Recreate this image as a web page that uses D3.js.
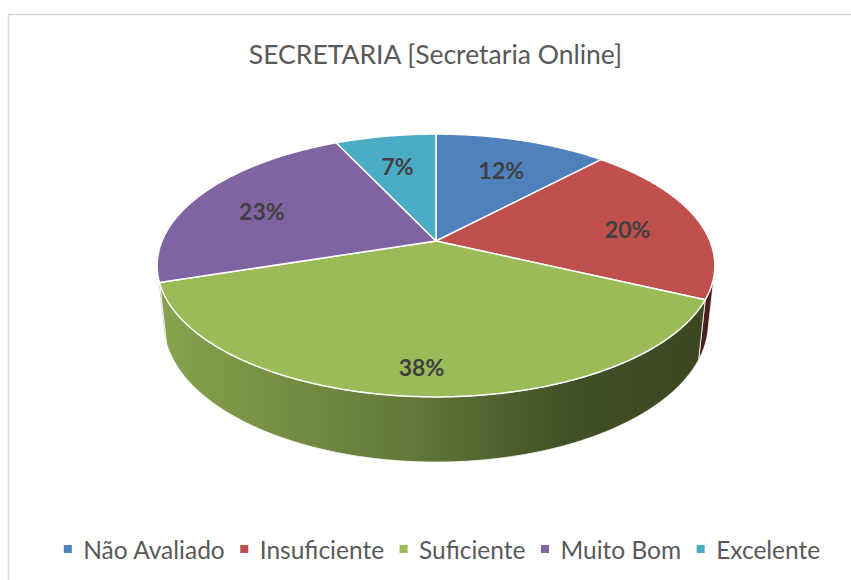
<!DOCTYPE html>
<html>
<head>
<meta charset="utf-8">
<script src="https://cdn.jsdelivr.net/npm/d3@7"></script>
<style>
  html, body { margin: 0; padding: 0; background: #fff; }
  svg { display: block; }
</style>
</head>
<body>
<svg id="chart" width="851" height="580"></svg>
<script>
// Chart data
const categories = ["Não Avaliado", "Insuficiente", "Suficiente", "Muito Bom", "Excelente"];
const values = [12, 20, 38, 23, 7];
const percentLabels = ["12%", "20%", "38%", "23%", "7%"];
const colors = ["#4f81bd", "#c0504d", "#9bbb59", "#8064a2", "#4bacc6"];
const title = "SECRETARIA [Secretaria Online]";

const W = 851, H = 580;
const svg = d3.select("#chart");

// Chart area frame
svg.append("rect")
  .attr("x", 8.5).attr("y", 14.5)
  .attr("width", W + 40).attr("height", H + 40)
  .attr("fill", "#fff")
  .attr("stroke", "#d9d9d9").attr("stroke-width", 1.5);

// Title
svg.append("text")
  .attr("x", 435.5).attr("y", 64)
  .attr("text-anchor", "middle")
  .attr("font-family", "Lato, 'Open Sans', sans-serif")
  .attr("font-size", 26.5)
  .attr("fill", "#595959")
  .text(title);

// Perspective camera for the 3D pie
const cx = 436, cy = 241;          // projected pie centre
const focal = 1303, dist = 4.756;  // focal length and camera distance (radius units)
const sinP = 0.463, cosP = Math.sqrt(1 - sinP * sinP);
const thick = 0.2395;              // pie thickness (radius units)

function project(theta, r, z) {
  const X = r * Math.sin(theta), Y = r * Math.cos(theta);
  const depth = dist + Y * cosP - z * sinP;
  return [cx + focal * X / depth, cy - focal * (Y * sinP + z * cosP) / depth];
}

// The outer wall faces the viewer where cos(theta) < -1/(dist*cosP)
const visHalf = Math.acos(-1 / (dist * cosP));
const visStart = visHalf, visEnd = 2 * Math.PI - visHalf;

function arcPoints(a0, a1, r, z) {
  const n = Math.max(2, Math.ceil(Math.abs(a1 - a0) / (Math.PI / 360)));
  const pts = [];
  for (let i = 0; i <= n; i++) pts.push(project(a0 + (a1 - a0) * i / n, r, z));
  return pts;
}

const line = d3.line();
const arcs = d3.pie().sort(null).value(d => d).startAngle(0).endAngle(2 * Math.PI)(values);

// Wall shading gradients (light from the left)
const xs = [project(Math.PI * 1.5, 1, 0)[0], project(Math.PI * 0.5, 1, 0)[0]];
const defs = svg.append("defs");
const shadeStops = [[0, 0.87], [0.45, 0.64], [0.75, 0.42], [1, 0.38]];
colors.forEach((c, i) => {
  const g = defs.append("linearGradient")
    .attr("id", "wall" + i)
    .attr("gradientUnits", "userSpaceOnUse")
    .attr("x1", xs[0]).attr("x2", xs[1]).attr("y1", 0).attr("y2", 0);
  const base = d3.rgb(c);
  shadeStops.forEach(([o, k]) => {
    g.append("stop").attr("offset", o)
      .attr("stop-color", d3.rgb(base.r * k, base.g * k, base.b * k).formatHex());
  });
});

// Outer walls
const walls = svg.append("g");
arcs.forEach((a, i) => {
  const a0 = Math.max(a.startAngle, visStart), a1 = Math.min(a.endAngle, visEnd);
  if (a1 <= a0) return;
  const pts = arcPoints(a0, a1, 1, 0).concat(arcPoints(a1, a0, 1, -thick));
  walls.append("path")
    .attr("d", line(pts) + "Z")
    .attr("fill", `url(#wall${i})`)
    .attr("stroke", "#fff").attr("stroke-width", 0.8)
    .attr("stroke-linejoin", "round");
});

// Top faces
const tops = svg.append("g");
arcs.forEach((a, i) => {
  const pts = [project(0, 0, 0)].concat(arcPoints(a.startAngle, a.endAngle, 1, 0));
  tops.append("path")
    .attr("d", line(pts) + "Z")
    .attr("fill", colors[i])
    .attr("stroke", "#fff").attr("stroke-width", 1.5)
    .attr("stroke-linejoin", "round");
});

// Percentage labels
const labels = svg.append("g");
arcs.forEach((a, i) => {
  const mid = (a.startAngle + a.endAngle) / 2;
  const [x, y] = project(mid, 0.73, 0);
  const drop = Math.max(0, -Math.cos(mid)) * 14;
  labels.append("text")
    .attr("x", x).attr("y", y + 5 + drop)
    .attr("text-anchor", "middle")
    .attr("dominant-baseline", "central")
    .attr("font-family", "Lato, 'Open Sans', sans-serif")
    .attr("font-weight", "bold")
    .attr("font-size", 23)
    .attr("fill", "#404040")
    .text(percentLabels[i]);
});

// Legend
const legend = svg.append("g");
const items = categories.map((name, i) => {
  const g = legend.append("g");
  g.append("rect").attr("width", 8).attr("height", 8).attr("y", -4).attr("fill", colors[i]);
  const t = g.append("text")
    .attr("x", 19.5).attr("y", 0)
    .attr("dominant-baseline", "central")
    .attr("font-family", "Lato, 'Open Sans', sans-serif")
    .attr("font-size", 24.5)
    .attr("fill", "#595959")
    .text(name);
  return { g, w: 19.5 + t.node().getComputedTextLength() };
});
const gap = 15.5;
const total = d3.sum(items, d => d.w) + gap * (items.length - 1);
let lx = 442 - total / 2;
items.forEach(d => {
  d.g.attr("transform", `translate(${lx},549)`);
  lx += d.w + gap;
});
</script>
</body>
</html>
